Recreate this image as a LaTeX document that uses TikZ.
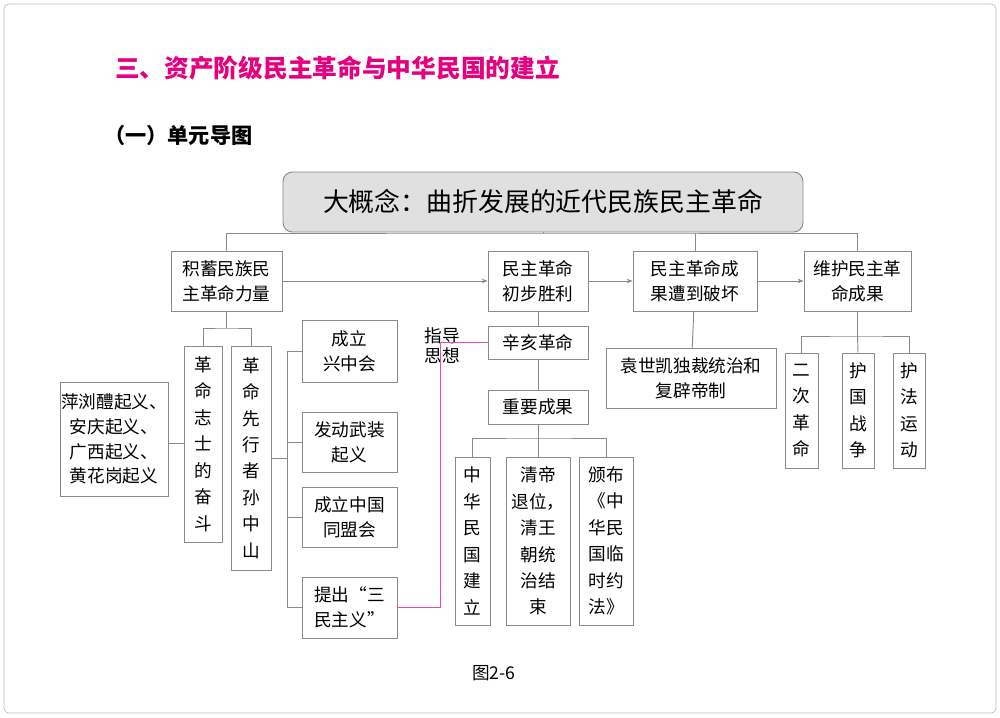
\documentclass[tikz,border=0pt]{standalone}
\usepackage{fontspec}
\setmainfont{Noto Sans CJK SC}
\newfontfamily\cjk{Noto Sans CJK SC}
\usetikzlibrary{arrows.meta}
\definecolor{pk}{HTML}{E5007F}
\definecolor{bd}{HTML}{8A8A8A}
\tikzset{
 bx/.style={draw=bd,line width=0.8pt,inner sep=0pt,align=center,font=\fontsize{15}{21}\selectfont},
 vb/.style={bx,font=\fontsize{15}{22.5}\selectfont},
 ln/.style={draw=bd,line width=0.8pt},
 ar/.style={ln,-{Stealth[length=5pt,width=4pt]}},
}
\newcommand{\B}[7]{\node[#1,minimum width=#4*0.85pt,minimum height=#5*0.85pt] (#2) at (#3) {#6#7};}
\begin{document}
\begin{tikzpicture}[x=0.85pt,y=-0.85pt]
\useasboundingbox (0,0) rectangle (1000,717);
\draw[draw=black!25,line width=0.6pt,rounded corners=4pt] (4,4) rectangle (996,713);
\node[anchor=west,text=pk,font=\fontsize{21}{24}\selectfont\bfseries] (title) at (111,68) {三、资产阶级民主革命与中华民国的建立};
\node[anchor=west,font=\fontsize{18}{22}\selectfont\bfseries] (sub) at (100,135) {（一）单元导图};
\node[bx,fill=black!12,rounded corners=8pt,minimum width=520*0.85pt,minimum height=60*0.85pt,font=\fontsize{22}{24}\selectfont] (big) at (543,202) {大概念：曲折发展的近代民族民主革命};
\B{bx}{a}{226.5,281}{111}{60}{积蓄民族民\\主革命力量}{}
\B{bx}{b}{538,281}{100}{60}{民主革命\\初步胜利}{}
\B{bx}{c}{695,281}{124}{60}{民主革命成\\果遭到破坏}{}
\B{bx}{d}{857.5,281}{107}{60}{维护民主革\\命成果}{}
\B{bx}{xh}{538,342.5}{100}{33}{辛亥革命}{}
\B{bx}{zy}{538,407}{100}{34}{重要成果}{}
\B{vb}{g1}{472.5,541}{35}{168}{中\\华\\民\\国\\建\\立}{}
\B{vb}{g2}{538,541}{64}{168}{清帝\\退位，\\清王\\朝统\\治结\\束}{}
\B{vb}{g3}{606,541}{54}{168}{颁布\\《中\\华民\\国临\\时约\\法》}{}
\B{bx}{ysk}{691,378}{170}{60}{袁世凯独裁统治和\\复辟帝制}{}
\B{vb}{e1}{801.5,410.5}{33}{115}{二\\次\\革\\命}{}
\B{vb}{e2}{858,410.5}{32}{115}{护\\国\\战\\争}{}
\B{vb}{e3}{909,410.5}{32}{115}{护\\法\\运\\动}{}
\B{vb}{s1}{203,444}{38}{196}{革\\命\\志\\士\\的\\奋\\斗}{}
\B{vb}{s2}{251,458}{40}{224}{革\\命\\先\\行\\者\\孙\\中\\山}{}
\B{bx}{pl}{114,439}{108}{114}{萍浏醴起义、\\安庆起义、\\广西起义、\\黄花岗起义}{}
\B{bx}{k1}{349.5,351}{95}{62}{成立\\兴中会}{}
\B{bx}{k2}{349.5,442}{95}{60}{发动武装\\起义}{}
\B{bx}{k3}{349.5,517}{95}{60}{成立中国\\同盟会}{}
\B{bx}{k4}{349.5,607.5}{95}{61}{提出“三\\民主义”}{}
\node[font=\fontsize{15}{17}\selectfont,align=center] (zd) at (442,346) {指导\\思想};
\node[font=\fontsize{15}{18}\selectfont] (cap) at (494,673) {图2-6};
% top tree
\coordinate (t) at (543,233);
\draw[ln] (big.south) -- (t);
\draw[ln] (a.north) |- (t) -| (d.north);
\draw[ln] (c.north) -- (c.north|-t);
\draw[ar] (a) -- (b);
\draw[ar] (b) -- (c);
\draw[ar] (c) -- (d);
\draw[ln] (b) -- (xh);
\draw[ln] (xh) -- (zy);
\draw[ln] (zy.south) -- (538,438);
\draw[ln] (g1.north) |- (538,438) -| (g3.north);
\draw[ln] (538,438) -- (g2.north);
\draw[ln] (c) -- (ysk);
\draw[ln] (d.south) -- (857.5,336);
\draw[ln] (e1.north) |- (857.5,336) -| (e3.north);
\draw[ln] (857.5,336) -- (e2.north);
\draw[ln] (a.south) -- (226.5,328);
\draw[ln] (s1.north) |- (226.5,328) -| (s2.north);
\draw[ln] (pl.east|-203,443) -- (s1.west|-203,443);
\coordinate (v) at (287,458);
\draw[ln] (s2.east|-v) -- (v);
\draw[ln] (k1.west) -| (v);
\draw[ln] (k4.west) -| (v);
\draw[ln] (k2.west) -| (v);
\draw[ln] (k3.west) -| (v);
\draw[draw=pk!70,line width=0.8pt] (k4.east) -| (440,342.5) -- (xh.west);
\end{tikzpicture}
\end{document}
